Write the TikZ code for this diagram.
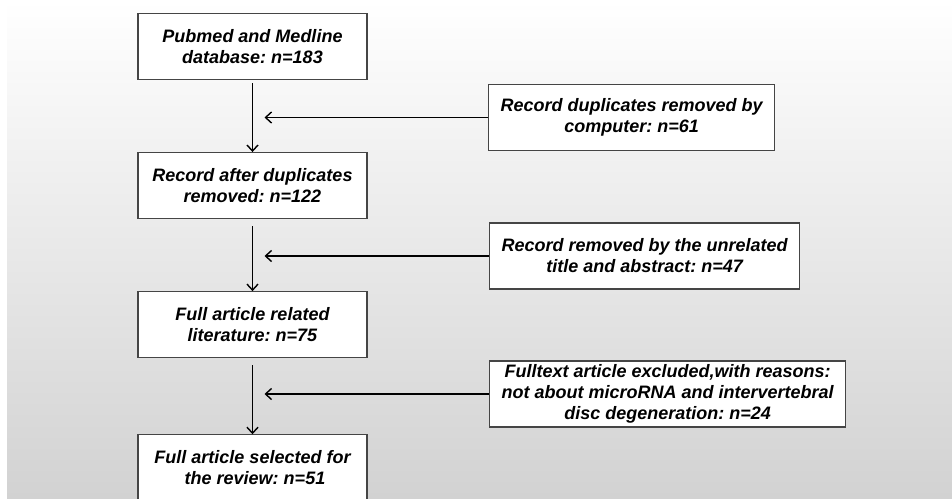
\documentclass[tikz,border=0pt]{standalone}
\usepackage{fontspec}
\setmainfont{Liberation Sans}
\usetikzlibrary{arrows.meta, positioning, calc}
\definecolor{cLine}{HTML}{454545}
\definecolor{cBgTop}{HTML}{FFFFFF}
\definecolor{cBgBot}{HTML}{D2D2D2}
\frenchspacing

\begin{document}
\begin{tikzpicture}[x=1pt, y=-1pt,
        stage/.style = {draw=cLine, fill=white, line width=1.1pt, minimum width=229pt, minimum height=66pt, inner ysep=2pt, align=center, font=\fontsize{18}{21}\selectfont\bfseries\itshape},
        excl/.style = {stage, minimum width=0pt, inner xsep=12pt, anchor=west},
        flow/.style = {draw=black, line width=1.4pt, -{Straight Barb[length=6pt, width=11pt, line width=1.4pt]}} ]
      % background
      \useasboundingbox (0,0) rectangle (952,498);
      \fill[top color=cBgTop, bottom color=cBgBot] (7,0) rectangle (952,498);

      % main column
      \node[stage] (b1) at (252.5,46.5) {Pubmed and Medline\\database: n=183};
      \node[stage, below=72pt of b1] (b2) {Record after duplicates\\removed: n=122};
      \node[stage, below=72pt of b2] (b3) {Full article related\\literature: n=75};
      \node[stage, below=76pt of b3] (b4) {Full article selected for\\\ the review: n=51};

      % excluded records
      \node[excl] (r1) at (488,117.5) {Record duplicates removed by\\computer: n=61};
      \node[excl] (r2) at (489,256) {Record removed by the unrelated\\title and abstract: n=47};
      \node[excl] (r3) at (489,394) {Fulltext article excluded,with reasons:\\not about microRNA and intervertebral\\disc degeneration: n=24};

      \draw[flow, shorten <=3pt] (b1) -- (b2);
      \draw[flow, shorten <=7pt] (b2) -- (b3);
      \draw[flow, shorten <=7pt] (b3) -- (b4);

      \coordinate (t1) at ($(b1.south |- r1.west)+(12,0)$);
      \coordinate (t2) at ($(b2.south |- r2.west)+(12,0)$);
      \coordinate (t3) at ($(b3.south |- r3.west)+(12,0)$);
      \draw[flow] (r1.west) -- (t1);
      \draw[flow] (r2.west) -- (t2);
      \draw[flow] (r3.west) -- (t3);
    \end{tikzpicture}
\end{document}
